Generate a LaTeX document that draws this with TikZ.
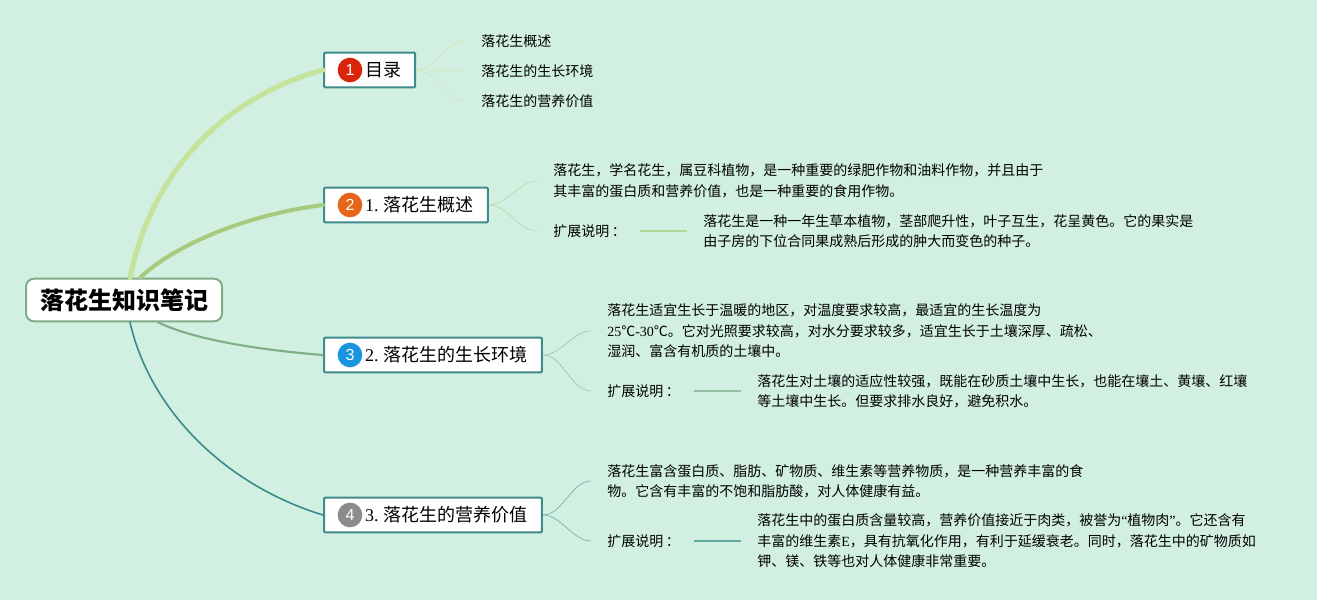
\documentclass[tikz,border=0pt]{standalone}
\usepackage{fontspec}
\setmainfont{Liberation Serif}
\setsansfont{Liberation Sans}
\newfontfamily\cjk{Noto Sans CJK SC}
\newcommand{\lat}[1]{{\rmfamily #1}}
\newcommand{\colonmark}{\hspace*{2pt}：\hspace*{-2pt}}
\usetikzlibrary{positioning,calc}
\definecolor{bgmint}{HTML}{D2F0E1}
\definecolor{rootedge}{HTML}{7FAD8A}
\definecolor{topicedge}{HTML}{3F8A8A}
\definecolor{linea}{HTML}{C5E39A}
\definecolor{lineb}{HTML}{A6CB7F}
\definecolor{linec}{HTML}{7FAE87}
\definecolor{lined}{HTML}{3A8B8B}
\definecolor{suba}{HTML}{CDE8B0}
\definecolor{subb}{HTML}{B4D89A}
\definecolor{subc}{HTML}{93BFA3}
\definecolor{subd}{HTML}{5FA8A0}
\definecolor{markred}{HTML}{D9230B}
\definecolor{markorange}{HTML}{E5661A}
\definecolor{markblue}{HTML}{1A96E0}
\definecolor{markgray}{HTML}{8C8C8C}

\begin{document}
\begin{tikzpicture}[
  x=0.75pt, y=-0.75pt,
  font=\cjk,
  root/.style={draw=rootedge, line width=1.5pt, rounded corners=6pt, fill=white, minimum width=147pt, minimum height=32pt, font=\cjk\fontsize{18pt}{22pt}\selectfont\bfseries},
  topic/.style={anchor=west, draw=topicedge, line width=1.5pt, rounded corners=0.8pt, fill=white, minimum height=26pt, inner xsep=10.5pt, inner ysep=0pt, font=\cjk\fontsize{13.5pt}{16pt}\selectfont},
  marker/.style={circle, inner sep=0pt, minimum size=18.5pt, text=white, font=\sffamily\fontsize{12pt}{14pt}\selectfont},
  leaf/.style={anchor=west, inner xsep=12pt, inner ysep=0pt, align=left, font=\cjk\fontsize{10.5pt}{15.3pt}\selectfont},
  branch/.style={line cap=round},
  sub/.style={line width=0.75pt, line cap=round, out=0, in=180, looseness=0.85}
]

\fill[bgmint] (0,0) rectangle (1317,600);
\useasboundingbox (0,0) rectangle (1317,600);

\node[root] (center) at (124,300) {落花生知识笔记};

% Main topics
\node[topic] (toc) at (323,70) {\hspace{20.3pt}目录};
\node[topic] (over) at (323,205) {\hspace{20.3pt}\lat{1.} 落花生概述};
\node[topic] (envi) at (323,355) {\hspace{20.3pt}\lat{2.} 落花生的生长环境};
\node[topic] (nutr) at (323,515) {\hspace{20.3pt}\lat{3.} 落花生的营养价值};

\node[marker, fill=markred] (m1) at ($(toc.west)+(27,0)$) {1};
\node[marker, fill=markorange] (m2) at ($(over.west)+(27,0)$) {2};
\node[marker, fill=markblue] (m3) at ($(envi.west)+(27,0)$) {3};
\node[marker, fill=markgray] (m4) at ($(nutr.west)+(27,0)$) {4};

\draw[branch, linea, line width=3.8pt] ($(center.north)+(6,0)$) .. controls (152,170) and (225,97) .. (toc.west);
\draw[branch, lineb, line width=3pt] ($(center.north)+(16,0)$) .. controls (175,245) and (245,215) .. (over.west);
\draw[branch, linec, line width=1.6pt] ($(center.south)+(34,0)$) .. controls (195,340) and (260,350) .. (envi.west);
\draw[branch, lined, line width=1.2pt] ($(center.south)+(6,0)$) .. controls (150,410) and (225,485) .. (nutr.west);

% Contents
\node[leaf] (t1) at (465,41) {落花生概述};
\node[leaf] (t2) at (465,71) {落花生的生长环境};
\node[leaf] (t3) at (465,101) {落花生的营养价值};
\draw[suba] (toc.east) to[sub] (t1.west);
\draw[suba] (toc.east) to[sub] (t2.west);
\draw[suba] (toc.east) to[sub] (t3.west);

% Overview
\node[leaf] (o1) at (537,181) {落花生，学名花生，属豆科植物，是一种重要的绿肥作物和油料作物，并且由于\\其丰富的蛋白质和营养价值，也是一种重要的食用作物。};
\node[leaf] (o2) at (537,231) {扩展说明\colonmark};
\node[leaf] (o3) at (687,231) {落花生是一种一年生草本植物，茎部爬升性，叶子互生，花呈黄色。它的果实是\\由子房的下位合同果成熟后形成的肿大而变色的种子。};
\draw[subb] (over.east) to[sub] (o1.west);
\draw[subb] (over.east) to[sub] (o2.west);
\draw[subb, line width=1.1pt] (o2.east) -- (o3.west);

% Environment
\node[leaf] (e1) at (591,331) {落花生适宜生长于温暖的地区，对温度要求较高，最适宜的生长温度为\\\lat{25}℃\lat{-30}℃。它对光照要求较高，对水分要求较多，适宜生长于土壤深厚、疏松、\\湿润、富含有机质的土壤中。};
\node[leaf] (e2) at (591,391) {扩展说明\colonmark};
\node[leaf] (e3) at (741,391) {落花生对土壤的适应性较强，既能在砂质土壤中生长，也能在壤土、黄壤、红壤\\等土壤中生长。但要求排水良好，避免积水。};
\draw[subc] (envi.east) to[sub] (e1.west);
\draw[subc] (envi.east) to[sub] (e2.west);
\draw[subc, line width=1.1pt] (e2.east) -- (e3.west);

% Nutrition
\node[leaf] (n1) at (591,481) {落花生富含蛋白质、脂肪、矿物质、维生素等营养物质，是一种营养丰富的食\\物。它含有丰富的不饱和脂肪酸，对人体健康有益。};
\node[leaf] (n2) at (591,541) {扩展说明\colonmark};
\node[leaf] (n3) at (741,541) {落花生中的蛋白质含量较高，营养价值接近于肉类，被誉为\lat{“}植物肉\lat{”}。它还含有\\丰富的维生素\lat{E}，具有抗氧化作用，有利于延缓衰老。同时，落花生中的矿物质如\\钾、镁、铁等也对人体健康非常重要。};
\draw[subd] (nutr.east) to[sub] (n1.west);
\draw[subd] (nutr.east) to[sub] (n2.west);
\draw[subd, line width=1.1pt] (n2.east) -- (n3.west);

\end{tikzpicture}
\end{document}
